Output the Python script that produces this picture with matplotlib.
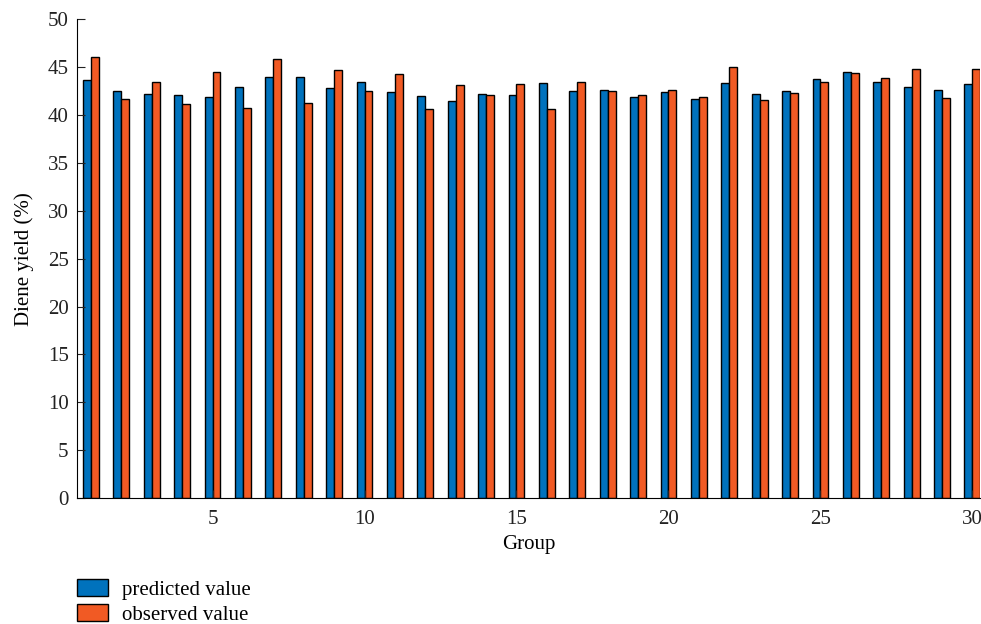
import matplotlib
matplotlib.use("Agg")
import matplotlib.pyplot as plt
import numpy as np
from matplotlib.patches import Patch

groups = list(range(1, 31))
predicted = [43.7, 42.5, 42.2, 42.1, 41.9, 42.9, 44.0, 44.0, 42.8, 43.4,
             42.4, 42.0, 41.5, 42.2, 42.1, 43.3, 42.5, 42.6, 41.9, 42.4,
             41.7, 43.3, 42.2, 42.5, 43.8, 44.5, 43.5, 42.9, 42.6, 43.2]
observed = [46.1, 41.7, 43.5, 41.2, 44.5, 40.7, 45.9, 41.3, 44.7, 42.5,
            44.3, 40.6, 43.1, 42.1, 43.2, 40.6, 43.4, 42.5, 42.1, 42.6,
            41.9, 45.0, 41.6, 42.3, 43.5, 44.4, 43.9, 44.8, 41.8, 44.8]
series_names = ["predicted value", "observed value"]
colors = ["#0072BD", "#F15A24"]

plt.rcParams['font.family'] = ['Liberation Serif', 'DejaVu Serif']
FS = 15

fig = plt.figure(figsize=(9.81, 6.24), dpi=100)
ax = fig.add_axes([77/981, 126/624, 903/981, (498-19.3)/624])

x = np.array(groups)
w = 0.26
ax.bar(x - w/2, predicted, width=w, color=colors[0], edgecolor='black', linewidth=1.0)
ax.bar(x + w/2, observed, width=w, color=colors[1], edgecolor='black', linewidth=1.0)

ax.set_xlim(0.54, 30.25)
ax.set_ylim(0, 50)
ax.set_yticks(range(0, 51, 5))
ax.set_xticks([5, 10, 15, 20, 25, 30])
ax.tick_params(direction='in', labelsize=FS, colors='#222222', length=6)
ax.tick_params(axis='y', pad=6)
ax.tick_params(axis='x', pad=9)
for s in ['top', 'right']:
    ax.spines[s].set_visible(False)
ax.set_xlabel("Group", fontsize=FS, labelpad=4)
ax.set_ylabel("Diene yield (%)", fontsize=FS, labelpad=10)

handles = [Patch(facecolor=colors[0], edgecolor='black', linewidth=1.0),
           Patch(facecolor=colors[1], edgecolor='black', linewidth=1.0)]
fig.legend(handles, series_names, loc='upper left', bbox_to_anchor=(77/981, 1 - 579/624),
           frameon=False, fontsize=FS, handlelength=1.5, handleheight=0.87,
           handletextpad=0.65, labelspacing=0.22, borderaxespad=0, borderpad=0)

fig.savefig("out.png", dpi=100)
